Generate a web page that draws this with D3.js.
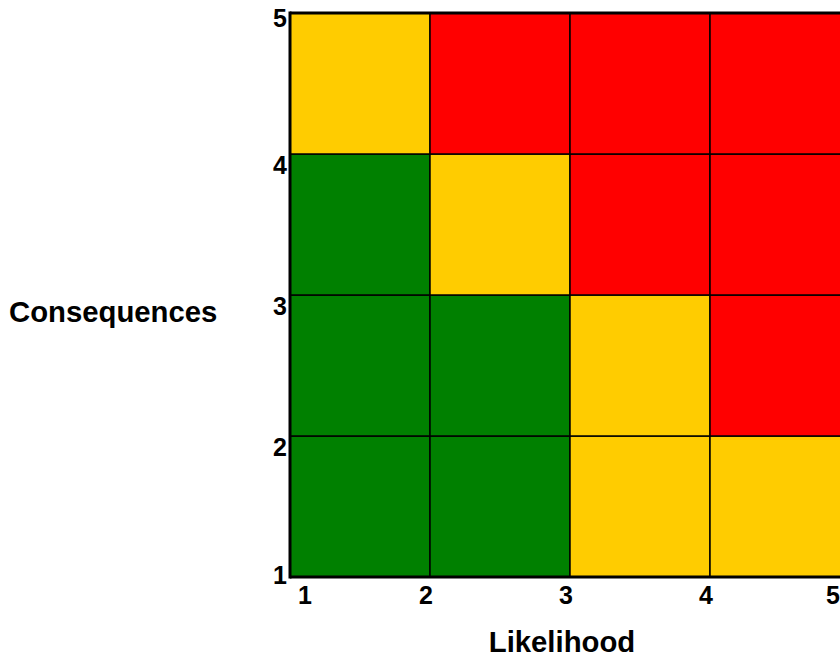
<!DOCTYPE html>
<html>
<head>
<meta charset="utf-8">
<script src="https://cdn.jsdelivr.net/npm/d3@7"></script>
<style>
  html, body { margin: 0; padding: 0; background: #fff; overflow: hidden; }
  svg text { font-family: "Liberation Sans", Arial, Helvetica, sans-serif; font-weight: bold; fill: #000; }
</style>
</head>
<body>
<svg id="chart" width="840" height="659"></svg>
<script>
// ---- data ----
const likelihoodTicks = [1, 2, 3, 4, 5];
const consequenceTicks = [1, 2, 3, 4, 5];
// cell lower-left corners (likelihood bin start, consequence bin start)
const likelihoodBins = [1, 2, 3, 4];
const consequenceBins = [1, 2, 3, 4];
// risk level per cell, rows = consequence bins (1..4), cols = likelihood bins (1..4)
const riskRows = [
  ["low", "low", "medium", "medium"],   // consequence 1-2
  ["low", "low", "medium", "high"],     // consequence 2-3
  ["low", "medium", "high", "high"],    // consequence 3-4
  ["medium", "high", "high", "high"]    // consequence 4-5
];
const riskLevels = ["low", "medium", "high"];
const riskColors = ["#008000", "#FFCC00", "#FF0000"];
const xTitle = "Likelihood";
const yTitle = "Consequences";

// ---- layout ----
const svg = d3.select("#chart");
const x = d3.scaleLinear().domain([1, 5]).range([290, 850]);
const y = d3.scaleLinear().domain([1, 5]).range([577, 13]);
const color = d3.scaleOrdinal().domain(riskLevels).range(riskColors);

const cells = [];
consequenceBins.forEach((c, ri) => {
  likelihoodBins.forEach((l, ci) => {
    cells.push({ l, c, level: riskRows[ri][ci] });
  });
});

svg.append("g").selectAll("rect").data(cells).join("rect")
  .attr("x", d => x(d.l))
  .attr("y", d => y(d.c + 1))
  .attr("width", d => x(d.l + 1) - x(d.l))
  .attr("height", d => y(d.c) - y(d.c + 1))
  .attr("fill", d => color(d.level))
  .attr("stroke", "#000")
  .attr("stroke-width", 1.5);

// frame (left, top, bottom)
const frame = svg.append("g").attr("stroke", "#000").attr("stroke-width", 3).attr("fill", "none");
frame.append("line").attr("x1", x(1)).attr("x2", x(1)).attr("y1", y(5) - 1.5).attr("y2", y(1) + 1.5);
frame.append("line").attr("x1", x(1)).attr("x2", x(5) + 2).attr("y1", y(5)).attr("y2", y(5));
frame.append("line").attr("x1", x(1)).attr("x2", x(5) + 2).attr("y1", y(1)).attr("y2", y(1));

// x tick labels
const n = likelihoodTicks.length;
svg.append("g").selectAll("text").data(likelihoodTicks).join("text")
  .attr("x", (d, i) => i === 0 ? x(d) + 8 : (i === n - 1 ? 840 : x(d) - 4))
  .attr("y", y(1) + 27)
  .attr("text-anchor", (d, i) => i === 0 ? "start" : (i === n - 1 ? "end" : "middle"))
  .attr("font-size", 25)
  .text(d => d);

// y tick labels
const m = consequenceTicks.length;
svg.append("g").selectAll("text").data(consequenceTicks).join("text")
  .attr("x", x(1) - 3)
  .attr("y", (d, i) => i === 0 ? y(d) + 7 : (i === m - 1 ? y(d) + 14 : y(d) + 19.5))
  .attr("text-anchor", "end")
  .attr("font-size", 25)
  .text(d => d);

// axis titles
svg.append("text")
  .attr("x", 9).attr("y", 322)
  .attr("text-anchor", "start")
  .attr("font-size", 29.3)
  .text(yTitle);

svg.append("text")
  .attr("x", 562).attr("y", 652)
  .attr("text-anchor", "middle")
  .attr("font-size", 29.3)
  .text(xTitle);
</script>
</body>
</html>
